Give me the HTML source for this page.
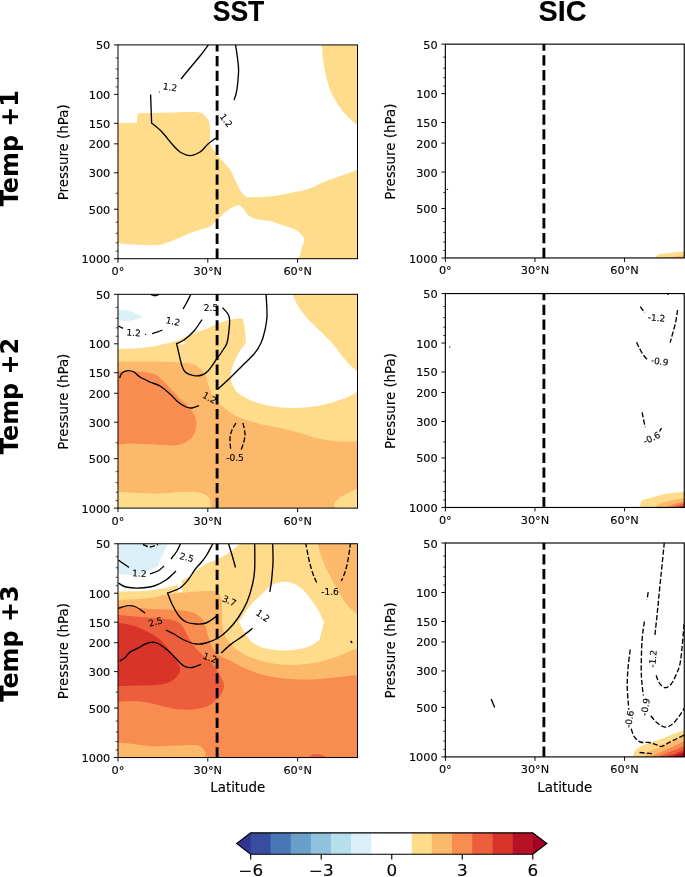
<!DOCTYPE html>
<html lang="en"><head><meta charset="utf-8"><title>SST / SIC temperature response</title>
<style>
html,body{margin:0;padding:0;background:#fff;}
body{width:685px;height:877px;overflow:hidden;}
svg{display:block;will-change:transform;}
text{font-family:"DejaVu Sans","Liberation Sans",sans-serif;fill:#000;stroke:#000;stroke-width:0.12px;}
.ttl{font-family:"Liberation Sans","DejaVu Sans",sans-serif;font-weight:bold;}
.row{font-family:"DejaVu Sans","Liberation Sans",sans-serif;font-weight:bold;stroke:none;}
</style></head><body>
<svg width="685" height="877" viewBox="0 0 685 877">
<rect width="685" height="877" fill="#fff"/>

<defs>
<clipPath id="c00"><rect x="118.0" y="44.9" width="239.5" height="213.8"/></clipPath>
<clipPath id="c01"><rect x="118.0" y="294.32" width="239.5" height="213.8"/></clipPath>
<clipPath id="c02"><rect x="118.0" y="543.75" width="239.5" height="213.8"/></clipPath>
<clipPath id="c10"><rect x="445.35" y="44.15" width="238.9" height="213.8"/></clipPath>
<clipPath id="c11"><rect x="445.35" y="293.57" width="238.9" height="213.9"/></clipPath>
<clipPath id="c12"><rect x="445.35" y="543.0" width="238.9" height="213.9"/></clipPath>
</defs>
<g clip-path="url(#c00)">
<path d="M118 123L136.6 123L137.6 113.4C141.3 113.3 150.3 113 160 112.8C169.7 112.6 188.7 111.6 196 112C203.3 112.4 201.8 113.3 204 115C206.2 116.7 208 119.5 209 122C210 124.5 209.8 128.7 210 130L210 144C211.3 146 214.7 151.8 218 156C221.3 160.2 227 165.2 230 169.5C233 173.8 234 178.1 236 182C238 185.9 240.2 190.4 242 193C243.8 195.6 246.2 196.7 247 197.4C250.8 197.2 262.8 197.1 270 196.4C277.2 195.7 283.7 194.2 290 193C296.3 191.8 302.3 190.8 308 189C313.7 187.2 318.3 184.2 324 182C329.7 179.8 336.2 177.7 342 175.6C347.8 173.5 355.8 170.4 358.5 169.4L358.5 259.7L298 259.7L298 258.7C298.3 258.1 299.3 256.9 300 255C300.7 253.1 301.3 249.5 302 247C302.7 244.5 304.6 242.2 304.4 240C304.2 237.8 302.7 235.8 301 234C299.3 232.2 297.2 230.5 294 229C290.8 227.5 286 226.3 282 225C278 223.7 274.3 222 270 221C265.7 220 259.7 220 256 219C252.3 218 250.3 217 248 215C245.7 213 243.7 208.6 242 207C240.3 205.4 240.3 205.1 238 205.6C235.7 206.1 231.3 207.8 228 210C224.7 212.2 221 216.2 218 219C215 221.8 213 224.8 210 226.6C207 228.4 204 228.2 200 229.6C196 231 191.3 232.9 186 235C180.7 237.1 173 240.7 168 242.4C163 244.1 162.3 244.7 156 245C149.7 245.3 136.3 244.7 130 244.4C123.7 244.1 120 243.2 118 243Z" fill="#fedc8c"/>
<path d="M322 43.9C322.2 46.6 322.3 54.6 323 60C323.7 65.3 324.7 70.7 326 76C327.3 81.3 328.8 87 331 92C333.2 97 336.2 101.8 339 106C341.8 110.2 344.8 113.7 348 117C351.2 120.3 356.8 124.5 358.5 126L358.5 43.9Z" fill="#fedc8c"/>
<path d="M209 44C207.5 46 203.2 52 200 56C196.8 60 193.2 64.2 190 68C186.8 71.8 182.5 77.2 181 79" fill="none" stroke="#000" stroke-width="1.35"/>
<text x="170" y="87.4" font-size="9.0" text-anchor="middle" dominant-baseline="central" transform="rotate(8 170 87.4)">1.2</text>
<circle cx="159.4" cy="92" r="0.6"/>
<path d="M150.6 94.4L151.6 123C153.3 124.5 158.6 128.5 162 132C165.4 135.5 169 140.7 172 144C175 147.3 177 150.1 180 152C183 153.9 186.7 155.6 190 155.6C193.3 155.6 197 153.9 200 152C203 150.1 205.3 146.3 208 144C210.7 141.7 214.7 139 216 138" fill="none" stroke="#000" stroke-width="1.35"/>
<path d="M235.4 44C235.8 46.3 237 53.7 237.5 58C238 62.3 238.6 65.5 238.6 70C238.6 74.5 237.9 81 237.5 85C237.1 89 236.6 91.5 236 94C235.4 96.5 234.3 99 234 100" fill="none" stroke="#000" stroke-width="1.35"/>
<text x="226" y="120.6" font-size="9.0" text-anchor="middle" dominant-baseline="central" transform="rotate(52 226 120.6)">1.2</text>
</g>
<g clip-path="url(#c01)">
<path d="M118 349C121.7 348.8 133 348.7 140 348C147 347.3 154 346.2 160 345C166 343.8 171 342.7 176 341C181 339.3 185 337 190 335C195 333 200.7 331.2 206 329C211.3 326.8 217.3 323.7 222 322C226.7 320.3 231 319.6 234 319C237 318.4 238.5 318.4 240 318.4C241.5 318.4 242.5 318.9 243 319C243.3 320.8 244.5 326 245 330C245.5 334 245.8 340.8 246 343C244.7 344.8 240.3 349.8 238 354C235.7 358.2 233.2 364 232 368C230.8 372 230.8 375 231 378C231.2 381 231.8 383.5 233 386C234.2 388.5 235.2 390.7 238 393C240.8 395.3 244.7 397.8 250 400C255.3 402.2 262.7 404.7 270 406C277.3 407.3 286.7 407.9 294 408C301.3 408.1 307.3 407.6 314 406.6C320.7 405.6 328 403.8 334 402C340 400.2 345.9 397.8 350 396C354.1 394.2 357.1 391.8 358.5 391L358.5 509.1L118 509.1Z" fill="#fedc8c"/>
<path d="M292 293.3C293 295.4 295.7 302.1 298 306C300.3 309.9 302.7 313.2 306 317C309.3 320.8 313.7 324.7 318 329C322.3 333.3 328 338.5 332 343C336 347.5 339 352.3 342 356C345 359.7 347.2 362.3 350 365C352.8 367.7 357.1 371.2 358.5 372.4L358.5 293.3Z" fill="#fedc8c"/>
<path d="M177.5 343.2L184 339.8L185 344L180 344.6Z" fill="#fff"/>
<path d="M118 310C119.3 310 123.3 309.6 126 310C128.7 310.4 131.2 311.2 134 312.4C136.8 313.6 141.5 316.2 143 317C141.8 317.4 138.8 318.9 136 319.6C133.2 320.3 129 320.9 126 321C123 321.1 119.3 320.5 118 320.4Z" fill="#dcf1f7"/>
<path d="M118 361.6C123.3 361.6 141.3 361.5 150 361.6C158.7 361.7 163.3 361.7 170 362C176.7 362.3 185.3 362.8 190 363.6C194.7 364.4 195.5 365.3 198 367C200.5 368.7 203.3 371.2 205 374C206.7 376.8 206.8 380.7 208 384C209.2 387.3 210.5 391 212 394C213.5 397 215.3 400 217 402C218.7 404 219.2 403.8 222 406C224.8 408.2 229.8 412.7 234 415C238.2 417.3 242.7 418.5 247 420C251.3 421.5 254.5 422.7 260 424C265.5 425.3 273.3 426.5 280 428C286.7 429.5 294 431.3 300 433C306 434.7 310.3 436.7 316 438C321.7 439.3 328.3 440.4 334 441C339.7 441.6 345.9 441.6 350 441.6C354.1 441.6 357.1 441.1 358.5 441L358.5 509.1L118 509.1Z" fill="#fdb96b"/>
<path d="M118 371C121 371.1 130 371.1 136 371.6C142 372.1 149.7 372.6 154 374C158.3 375.4 159 377.3 162 380C165 382.7 169 386.8 172 390C175 393.2 177 396 180 399C183 402 187.3 404.5 190 408C192.7 411.5 195.2 416 196 420C196.8 424 196.2 428.7 195 432C193.8 435.3 191.8 437.8 189 440C186.2 442.2 182.8 444.2 178 445C173.2 445.8 168 445.2 160 445C152 444.8 137 443.6 130 443.6C123 443.6 120 444.8 118 445Z" fill="#f88c51"/>
<path d="M118 492C121.7 492.2 133 492.7 140 493C147 493.3 153.3 493.8 160 493.6C166.7 493.4 174 492.3 180 492C186 491.7 191.7 491.5 196 492C200.3 492.5 203.7 493.7 206 495C208.3 496.3 209.2 497.6 210 500C210.8 502.4 210.5 507.6 210.6 509.1L118 509.1Z" fill="#fedc8c"/>
<path d="M358.5 488C356.8 488.8 351.2 491.3 348 493C344.8 494.7 341.3 496.2 339 498C336.7 499.8 334.5 502.1 334 504C333.5 505.9 335.7 508.3 336 509.1L358.5 509.1Z" fill="#fedc8c"/>
<path d="M150.5 294.4C151.2 294.6 153.5 295.7 155 295.7C156.5 295.7 158.8 294.6 159.5 294.4" fill="none" stroke="#000" stroke-width="1.35"/>
<path d="M118.4 326L123 328.4" fill="none" stroke="#000" stroke-width="1.35"/>
<text x="133.6" y="333" font-size="9.0" text-anchor="middle" dominant-baseline="central" transform="rotate(5 133.6 333)">1.2</text>
<circle cx="145.6" cy="334.4" r="0.6"/>
<path d="M152 333.6C152.8 333.4 155.3 332.8 157 332.2C158.7 331.6 161.5 330.4 162.4 330" fill="none" stroke="#000" stroke-width="1.35"/>
<text x="173" y="321.6" font-size="9.0" text-anchor="middle" dominant-baseline="central" transform="rotate(12 173 321.6)">1.2</text>
<path d="M183 309C183.7 307.8 185.7 304.5 187 302C188.3 299.5 190.3 295.3 191 294" fill="none" stroke="#000" stroke-width="1.35"/>
<path d="M202 319.6C200.7 321.5 197 327.6 194 331C191 334.4 186.9 337.9 184 340C181.1 342.1 177.8 343 176.6 343.6C177 345.3 178.1 350.3 179 354C179.9 357.7 180.9 362.9 182 366C183.1 369.1 183.6 370.8 185.6 372.4C187.6 374 191.3 375.2 194 375.6C196.7 376 199.7 375.8 202 375C204.3 374.2 205.7 373.5 208 371C210.3 368.5 213.5 363.5 216 360C218.5 356.5 221.2 352.8 223 350C224.8 347.2 226 346.3 227 343C228 339.7 228.6 333.8 229 330C229.4 326.2 229.8 322.7 229.6 320C229.4 317.3 229.2 316.1 228 314C226.8 311.9 223.3 308.7 222.4 307.6" fill="none" stroke="#000" stroke-width="1.35"/>
<text x="211" y="308.4" font-size="9.0" text-anchor="middle" dominant-baseline="central" transform="rotate(0 211 308.4)">2.5</text>
<path d="M119.6 378C120 377.2 120.6 374.2 122 373C123.4 371.8 126 370.8 128 370.6C130 370.4 132 370.9 134 372C136 373.1 137.3 375.3 140 377C142.7 378.7 146.7 380.5 150 382C153.3 383.5 156.7 384 160 386C163.3 388 167 391.3 170 394C173 396.7 175.3 399.8 178 402C180.7 404.2 183.7 406 186 407C188.3 408 189.8 408.2 192 408C194.2 407.8 197.8 406 199 405.6" fill="none" stroke="#000" stroke-width="1.35"/>
<text x="209.4" y="398" font-size="9.0" text-anchor="middle" dominant-baseline="central" transform="rotate(30 209.4 398)">1.2</text>
<path d="M218 389C220 387.2 226 381.8 230 378C234 374.2 238 370 242 366C246 362 250.8 357.8 254 354C257.2 350.2 259.2 347 261 343C262.8 339 264 334.5 265 330C266 325.5 266.8 322.2 267 316C267.2 309.8 266.2 296.8 266 293" fill="none" stroke="#000" stroke-width="1.35"/>
<path d="M236 423C235.3 424.2 233 427.5 232 430C231 432.5 230.2 434.8 230 438C229.8 441.2 230.5 447.2 230.6 449" fill="none" stroke="#000" stroke-width="1.35" stroke-dasharray="5.2 2.1"/>
<path d="M243 423C243.3 424.8 244.9 430.7 245 434C245.1 437.3 244.2 440.3 243.5 443C242.8 445.7 241.4 448.8 241 450" fill="none" stroke="#000" stroke-width="1.35" stroke-dasharray="5.2 2.1"/>
<text x="235" y="458" font-size="9.0" text-anchor="middle" dominant-baseline="central" transform="rotate(0 235 458)">-0.5</text>
</g>
<g clip-path="url(#c02)">
<path d="M118 591.6C121.7 591.5 133 591.4 140 591C147 590.6 154 590 160 589C166 588 172.3 586.5 176 585C179.7 583.5 180.1 581.5 182.4 580C184.7 578.5 187.4 577.8 190 576C192.6 574.2 195.3 571 198 569C200.7 567 202.7 565.7 206 564C209.3 562.3 214 561 218 559C222 557 226.2 554.7 230 552C233.8 549.3 239.2 544.3 241 542.8L358.5 542.8L358.5 758.5L118 758.5Z" fill="#fedc8c"/>
<path d="M178 584L182 580.5L182 592L178.5 592.5Z" fill="#fff"/>
<path d="M239 622C240.8 619.3 246.2 610.7 250 606C253.8 601.3 258.3 597.5 262 594C265.7 590.5 268.7 587 272 585C275.3 583 278.7 582.3 282 582C285.3 581.7 288.7 581.8 292 583C295.3 584.2 299 586.5 302 589C305 591.5 307.3 594.5 310 598C312.7 601.5 315.7 606 318 610C320.3 614 323 620 324 622C323.7 623.3 322.8 627 322 630C321.2 633 319.9 638.3 319.5 640C317.9 641 313.9 644.4 310 646C306.1 647.6 301 648.9 296 649.6C291 650.3 285.3 650.7 280 650.4C274.7 650.1 268.7 649.4 264 648C259.3 646.6 255.2 644.5 252 642C248.8 639.5 247.2 636.3 245 633C242.8 629.7 240 623.8 239 622Z" fill="#fff"/>
<path d="M118 542.8L168 542.8L168 543.8C167.2 545.5 164.3 551.3 163 554C161.7 556.7 160.8 558 160 560C159.2 562 159.7 564.3 158 566C156.3 567.7 153 568.7 150 570C147 571.3 143.3 573.2 140 574C136.7 574.8 133.7 575 130 575C126.3 575 120 574.2 118 574Z" fill="#dcf1f7"/>
<path d="M118 600C120 599.9 124.7 599.9 130 599.6C135.3 599.3 143.7 598.9 150 598C156.3 597.1 161.3 595.4 168 594.4C174.7 593.4 183 592.6 190 592C197 591.4 205.4 590.9 210 591C214.6 591.1 215.6 590.8 217.5 592.5C219.4 594.2 220.8 597.6 221.5 601C222.2 604.4 221.8 609.3 222 613C222.2 616.7 222.1 619.7 222.4 623C222.7 626.3 222.9 629.8 224 633C225.1 636.2 227 639.3 229 642C231 644.7 232.5 646.5 236 649C239.5 651.5 244.3 654.7 250 657C255.7 659.3 263.3 661.7 270 663C276.7 664.3 283.3 664.9 290 665C296.7 665.1 303.3 664.6 310 663.6C316.7 662.6 324.7 660.5 330 659C335.3 657.5 338.7 655.8 342 654.5C345.3 653.2 347.2 652.1 350 651C352.8 649.9 357.1 648.5 358.5 648L358.5 758.5L118 758.5Z" fill="#fdb96b"/>
<path d="M317.4 542.8C318 545 319.6 551.8 321 556C322.4 560.2 324.2 564 326 568C327.8 572 329.7 575.7 332 580C334.3 584.3 337.3 589.7 340 594C342.7 598.3 344.9 602.5 348 606C351.1 609.5 356.8 613.5 358.5 615L358.5 542.8Z" fill="#fdb96b"/>
<path d="M118 606C120 606.2 124.7 606.5 130 607C135.3 607.5 143.3 608.6 150 609C156.7 609.4 164 609.3 170 609.6C176 609.9 181.7 610.3 186 611C190.3 611.7 193.2 612.5 196 614C198.8 615.5 201.3 617.7 203 620C204.7 622.3 205 624.8 206 628C207 631.2 207.6 635.2 209 639C210.4 642.8 212.4 648 214.6 651C216.8 654 219.4 655.4 222 657C224.6 658.6 226.7 658.8 230 660.5C233.3 662.2 237 664.8 242 667C247 669.2 253.7 672.2 260 674C266.3 675.8 273.3 677.1 280 678C286.7 678.9 293.3 679.4 300 679.6C306.7 679.8 313.3 679.4 320 679C326.7 678.6 333.6 677.7 340 677C346.4 676.3 355.4 675.3 358.5 675L358.5 758.5L118 758.5Z" fill="#f88c51"/>
<path d="M118 615C119.3 615.1 122.3 615.3 126 615.6C129.7 615.9 134.3 616.5 140 617C145.7 617.5 154.3 617.8 160 618.4C165.7 619 170.3 619.3 174 620.5C177.7 621.7 179.7 622.8 182 625.5C184.3 628.2 185.9 633 188 636.5C190.1 640 192.2 643.5 194.5 646.5C196.8 649.5 199.6 652.2 202 654.5C204.4 656.8 207 658.6 209 660.5C211 662.4 212.1 663.4 214 666C215.9 668.6 218.8 672.7 220.5 676C222.2 679.3 224.1 682.7 224 686C223.9 689.3 222.3 692.8 220 696C217.7 699.2 214 702.8 210 705C206 707.2 201 708.2 196 709C191 709.8 185 709.9 180 709.6C175 709.3 171 708.1 166 707C161 705.9 155.3 704 150 703C144.7 702 139.3 701.2 134 701C128.7 700.8 120.7 701.8 118 702Z" fill="#ed5f3c"/>
<path d="M118 623C119.3 623.2 123 623.4 126 624C129 624.6 132.3 625.1 136 626.4C139.7 627.7 144.3 630.1 148 632C151.7 633.9 155 635.7 158 638C161 640.3 163.7 643.3 166 646C168.3 648.7 170.3 651.7 172 654C173.7 656.3 174.7 657.7 176 660C177.3 662.3 179.7 665.5 180 668C180.3 670.5 179.7 672.7 178 675C176.3 677.3 173.7 680.3 170 682C166.3 683.7 161.7 684.4 156 685C150.3 685.6 142.3 685.4 136 685.6C129.7 685.8 121 686.3 118 686.4Z" fill="#d93429"/>
<path d="M118 742.4C120.7 742.7 128 743.3 134 744C140 744.7 147.3 746.1 154 746.4C160.7 746.7 167.3 745.8 174 745.6C180.7 745.4 189.5 744.8 194 745C198.5 745.2 199.2 745.8 201 747C202.8 748.2 204.2 750.1 205 752C205.8 753.9 205.5 757.5 205.6 758.5L118 758.5Z" fill="#fdb96b"/>
<ellipse cx="317" cy="757.55" rx="8" ry="3.5" fill="#ed5f3c"/>
<path d="M143 544.5C144.2 544.9 147.5 547 150 547C152.5 547 156.7 544.9 158 544.5" fill="none" stroke="#000" stroke-width="1.35" stroke-dasharray="5.2 2.1"/>
<path d="M118.4 560C119.3 560.7 122.2 562.8 124 564C125.8 565.2 128.2 566.8 129 567.4" fill="none" stroke="#000" stroke-width="1.35"/>
<text x="139.4" y="573.6" font-size="9.0" text-anchor="middle" dominant-baseline="central" transform="rotate(3 139.4 573.6)">1.2</text>
<path d="M150 574C151.3 573.5 155.7 572.3 158 571C160.3 569.7 163 566.8 164 566" fill="none" stroke="#000" stroke-width="1.35"/>
<path d="M171 559C172 557.7 175.3 553.8 177 551C178.7 548.2 180.3 543.9 181 542.5" fill="none" stroke="#000" stroke-width="1.35"/>
<path d="M118.4 583C119.7 583.7 122.4 586.2 126 587C129.6 587.8 135.3 588.2 140 588C144.7 587.8 149.7 587.3 154 586C158.3 584.7 162.3 582.5 166 580C169.7 577.5 174.3 572.5 176 571" fill="none" stroke="#000" stroke-width="1.35"/>
<text x="186.6" y="557.6" font-size="9.0" text-anchor="middle" dominant-baseline="central" transform="rotate(15 186.6 557.6)">2.5</text>
<path d="M213.5 542.5C212.3 544.7 208.5 552.1 206.4 555.5C204.3 558.9 202.6 560.7 200.7 563C198.8 565.3 197.1 566.7 195 569.5C192.9 572.3 190.5 576.9 188 580C185.5 583.1 183.4 585.8 180 588C176.6 590.2 169.7 592.2 167.6 593C168.3 594.8 170.1 600.2 172 604C173.9 607.8 176.7 613 179 616C181.3 619 183.2 620.7 186 622C188.8 623.3 192.7 623.8 196 624C199.3 624.2 202.5 624.3 206 623C209.5 621.7 215 617.2 216.8 616" fill="none" stroke="#000" stroke-width="1.35"/>
<text x="229.2" y="601" font-size="9.0" text-anchor="middle" dominant-baseline="central" transform="rotate(25 229.2 601)">3.7</text>
<path d="M235.5 567.5C234.9 565.4 233.2 559.2 232 555C230.8 550.8 228.8 544.6 228.2 542.5" fill="none" stroke="#000" stroke-width="1.35"/>
<path d="M118.4 608.3C120 607.8 125.1 605.8 128 605.6C130.9 605.4 133.2 605.8 136 607C138.8 608.2 143.5 612 145 613" fill="none" stroke="#000" stroke-width="1.35"/>
<text x="155.6" y="622" font-size="9.0" text-anchor="middle" dominant-baseline="central" transform="rotate(-15 155.6 622)">2.5</text>
<path d="M166 630C167.3 630.7 171 632.3 174 634C177 635.7 180.3 638.3 184 640C187.7 641.7 192.3 643.5 196 644C199.7 644.5 202.3 644 206 643C209.7 642 214.3 640.2 218 638C221.7 635.8 224.7 633.3 228 630C231.3 626.7 234.8 622.7 238 618C241.2 613.3 244.6 607.7 247 602C249.4 596.3 251.3 589.5 252.6 584C253.9 578.5 254.3 575.9 254.7 569C255 562.1 254.7 546.9 254.7 542.5" fill="none" stroke="#000" stroke-width="1.35"/>
<path d="M272.6 542.5C272.7 545.8 273.2 555.6 273 562C272.8 568.4 272 576 271.5 581C271 586 270.1 590 269.8 591.8" fill="none" stroke="#000" stroke-width="1.35"/>
<text x="262.8" y="616" font-size="9.0" text-anchor="middle" dominant-baseline="central" transform="rotate(35 262.8 616)">1.2</text>
<path d="M252.6 628.3C250.9 629.6 246 633.7 242.3 636.4C238.7 639.1 234.2 641.6 230.7 644.4C227.2 647.2 222.8 651.6 221.2 653.1" fill="none" stroke="#000" stroke-width="1.35"/>
<text x="210" y="658" font-size="9.0" text-anchor="middle" dominant-baseline="central" transform="rotate(20 210 658)">1.2</text>
<path d="M201 664.4C199.3 664.9 193.8 667.3 191 667.6C188.2 667.9 185.8 666.8 184 666C182.2 665.2 181.7 664.4 180 662.8C178.3 661.2 176.1 658.6 174 656.5C171.9 654.4 170.2 652.3 167.7 650.2C165.2 648.1 161.4 645.4 158.9 644C156.4 642.6 154.9 642.1 152.6 642.1C150.3 642.1 147.4 643.1 145.1 644C142.8 644.9 141.3 646.4 138.8 647.7C136.3 649.1 132.3 650.4 130 652.1C127.7 653.8 126.7 656.3 125 657.8C123.3 659.3 120.5 660.5 119.6 661" fill="none" stroke="#000" stroke-width="1.35"/>
<path d="M305.6 542.5C306.2 545.4 307.8 554.8 309 560C310.2 565.2 311.6 570 313 574C314.4 578 316.7 582.3 317.4 584" fill="none" stroke="#000" stroke-width="1.35" stroke-dasharray="5.2 2.1"/>
<path d="M350.6 542.5C350.2 545.4 348.9 555.1 348 560C347.1 564.9 346.1 568.5 345 572C343.9 575.5 342 579.5 341.4 581" fill="none" stroke="#000" stroke-width="1.35" stroke-dasharray="5.2 2.1"/>
<text x="330" y="592" font-size="9.0" text-anchor="middle" dominant-baseline="central" transform="rotate(0 330 592)">-1.6</text>
<path d="M350.6 641L352.2 643" fill="none" stroke="#000" stroke-width="1.35"/>
</g>
<g clip-path="url(#c10)">
<path d="M654.6 259L654.6 258C655.4 257.3 657.1 254.8 659.6 254C662.1 253.2 665.3 253.3 669.5 252.9C673.7 252.5 682.4 251.8 685 251.6L685 259Z" fill="#fedc8c"/>
<path d="M667 259L667 258C668.3 257.8 672 257 675 256.5C678 256 683.3 255.2 685 255L685 259Z" fill="#fdb96b"/>
<circle cx="447.5" cy="189.4" r="0.7"/>
</g>
<g clip-path="url(#c11)">
<path d="M640.3 508.4L640.3 505C640.6 504.3 640 502 642 500.7C644 499.4 648.5 498.4 652.6 497.2C656.7 496 661.2 494.6 666.6 493.7C672 492.8 681.9 492.3 685 492L685 508.4Z" fill="#fedc8c"/>
<path d="M653.5 508.4L653.5 507.4C655.1 506.6 659.6 503.8 663 502.5C666.4 501.2 669.9 500.6 673.6 499.9C677.3 499.2 683.1 498.4 685 498.1L685 508.4Z" fill="#fdb96b"/>
<path d="M665 508.4L665 507.4C666.4 506.9 670.3 505.2 673.6 504.2C676.9 503.2 683.1 502 685 501.6L685 508.4Z" fill="#f88c51"/>
<path d="M672 508.4L672 507.4C673.1 507 676.7 505.7 678.9 505C681.1 504.3 684 503.7 685 503.4L685 508.4Z" fill="#ed5f3c"/>
<path d="M677 508.4L677 507.4C677.7 507.2 679.7 506.4 681 506C682.3 505.6 684.3 505.2 685 505L685 508.4Z" fill="#d93429"/>
<path d="M640.3 306.6L644.7 312.8" fill="none" stroke="#000" stroke-width="1.35" stroke-dasharray="5.2 2.1"/>
<text x="656.5" y="318" font-size="9.0" text-anchor="middle" dominant-baseline="central" transform="rotate(5 656.5 318)">-1.2</text>
<path d="M677.6 310.1C677.2 312.3 676.6 317.9 675.4 323.3C674.1 328.7 671 339.4 670.1 342.6" fill="none" stroke="#000" stroke-width="1.35" stroke-dasharray="5.2 2.1"/>
<path d="M636.5 342.2C637.4 344 640.3 350.2 642.1 353.1C643.9 356 646.4 358.6 647.3 359.7" fill="none" stroke="#000" stroke-width="1.35" stroke-dasharray="5.2 2.1"/>
<text x="659.6" y="361.5" font-size="9.0" text-anchor="middle" dominant-baseline="central" transform="rotate(8 659.6 361.5)">-0.9</text>
<path d="M642.1 412.3L645.2 427.2" fill="none" stroke="#000" stroke-width="1.35" stroke-dasharray="5.2 2.1"/>
<text x="651.7" y="438.2" font-size="9.0" text-anchor="middle" dominant-baseline="central" transform="rotate(-25 651.7 438.2)">-0.6</text>
<path d="M659.5 431.5L661.5 428" fill="none" stroke="#000" stroke-width="1.35"/>
<path d="M668 293.5L668 295" fill="none" stroke="#000" stroke-width="1.35"/>
<circle cx="449.7" cy="346.9" r="0.6"/>
</g>
<g clip-path="url(#c12)">
<path d="M633.3 757.9L633.3 756C633.6 755.1 633.6 752.5 635.1 750.7C636.6 749 639.2 747 642.1 745.5C645 744 648.8 743.3 652.6 742C656.4 740.7 661.1 739.1 664.9 737.6C668.7 736.1 672 734.5 675.4 733.2C678.8 731.9 683.4 730.3 685 729.7L685 757.9Z" fill="#fedc8c"/>
<path d="M644.7 757.9L644.7 756C645.4 755.3 646.6 753.1 649.1 751.6C651.6 750.1 655.8 748.8 659.6 747.2C663.4 745.6 667.7 743.9 671.9 742C676.1 740.1 682.8 736.8 685 735.8L685 757.9Z" fill="#fdb96b"/>
<path d="M652.6 757.9L652.6 756C653.8 755.4 656.7 753.8 659.6 752.5C662.5 751.2 665.9 750 670.1 748.1C674.3 746.2 682.5 742.3 685 741.1L685 757.9Z" fill="#f88c51"/>
<path d="M659.6 757.9L659.6 756C661.1 755.4 665.5 753.7 668.4 752.5C671.3 751.3 674.3 750.2 677.1 749C679.9 747.8 683.7 746.1 685 745.5L685 757.9Z" fill="#ed5f3c"/>
<path d="M666.6 757.9L666.6 756C668.1 755.6 672.3 754.6 675.4 753.4C678.5 752.2 683.4 749.7 685 749L685 757.9Z" fill="#d93429"/>
<path d="M672.7 757.9L672.7 756C673.7 755.7 676.9 754.9 678.9 754.2C680.9 753.5 684 752 685 751.6L685 757.9Z" fill="#b71126"/>
<path d="M678 757.9L678 756L685 753.7L685 757.9Z" fill="#a50026"/>
<path d="M664.3 542.5C663.8 547.9 662.1 564.3 661 575C659.9 585.7 658.9 596.5 657.9 606.6C656.9 616.7 655.4 630.7 654.9 635.5" fill="none" stroke="#000" stroke-width="1.35" stroke-dasharray="5.2 2.1"/>
<path d="M648.2 592.2L647 599.6" fill="none" stroke="#000" stroke-width="1.35" stroke-dasharray="5.2 2.1"/>
<path d="M644.4 621.5C644 624.6 642.6 632.2 642.1 639.9C641.6 647.6 641.2 660 641.2 667.5C641.2 675 641.7 680.3 642.1 685C642.5 689.7 643.3 693.8 643.5 695.5" fill="none" stroke="#000" stroke-width="1.35" stroke-dasharray="5.2 2.1"/>
<path d="M630.2 649.5C629.9 652.5 628.6 661.6 628.1 667.5C627.6 673.4 627.2 679.5 627.2 685C627.2 690.5 627.8 696.7 628.1 700.8C628.4 704.9 628.8 708.1 628.9 709.6" fill="none" stroke="#000" stroke-width="1.35" stroke-dasharray="5.2 2.1"/>
<path d="M684.1 624.1C683.5 630.2 681.9 652.1 680.6 660.5C679.3 668.9 677.8 670.5 676.2 674.5C674.6 678.5 672.8 682 671 684.2C669.2 686.4 667.1 687.9 665.2 687.7C663.3 687.6 661.1 685.3 659.6 683.3C658.1 681.2 656.7 676.7 656.1 675.4" fill="none" stroke="#000" stroke-width="1.35" stroke-dasharray="5.2 2.1"/>
<text x="653.1" y="658.8" font-size="9.0" text-anchor="middle" dominant-baseline="central" transform="rotate(-85 653.1 658.8)">-1.2</text>
<text x="645.6" y="707" font-size="9.0" text-anchor="middle" dominant-baseline="central" transform="rotate(-80 645.6 707)">-0.9</text>
<path d="M650.8 715.7C651.8 716.9 654.6 720.8 657 722.7C659.4 724.6 662.4 726.8 664.9 727.1C667.4 727.4 669.6 726.2 671.9 724.5C674.2 722.8 676.8 719.4 678.9 716.6C681 713.8 683.6 709.3 684.5 707.8" fill="none" stroke="#000" stroke-width="1.35" stroke-dasharray="5.2 2.1"/>
<text x="629.5" y="719.2" font-size="9.0" text-anchor="middle" dominant-baseline="central" transform="rotate(-80 629.5 719.2)">-0.6</text>
<path d="M631.2 728.8C631.7 730.1 632.7 734.5 634.2 736.7C635.7 738.9 637.8 741 640.3 742C642.8 743 646.5 742.1 649.1 742.5C651.7 742.9 654.1 744 656.1 744.6C658.1 745.2 659.4 746.7 661.4 746.4C663.4 746.1 665.8 744.2 668.4 742.9C671 741.6 674.4 739.8 677.1 738.5C679.8 737.2 683.3 735.6 684.5 735" fill="none" stroke="#000" stroke-width="1.35" stroke-dasharray="5.2 2.1"/>
<path d="M639.5 752.5L652.6 753.7" fill="none" stroke="#000" stroke-width="1.35" stroke-dasharray="5.2 2.1"/>
<path d="M491.2 699.1L494.7 707.4" fill="none" stroke="#000" stroke-width="1.35"/>
</g>
<line x1="217.1" y1="258.7" x2="217.1" y2="44.9" stroke="#000" stroke-width="2.85" stroke-dasharray="10.3 4.5"/>
<rect x="118.0" y="44.9" width="239.5" height="213.8" fill="none" stroke="#000" stroke-width="1.0"/>
<line x1="114" y1="44.90" x2="118.0" y2="44.90" stroke="#000" stroke-width="0.95"/>
<text x="110.3" y="49.40" font-size="11.3" text-anchor="end">50</text>
<line x1="114" y1="94.37" x2="118.0" y2="94.37" stroke="#000" stroke-width="0.95"/>
<text x="110.3" y="98.87" font-size="11.3" text-anchor="end">100</text>
<line x1="114" y1="123.31" x2="118.0" y2="123.31" stroke="#000" stroke-width="0.95"/>
<text x="110.3" y="127.81" font-size="11.3" text-anchor="end">150</text>
<line x1="114" y1="143.84" x2="118.0" y2="143.84" stroke="#000" stroke-width="0.95"/>
<text x="110.3" y="148.34" font-size="11.3" text-anchor="end">200</text>
<line x1="114" y1="172.77" x2="118.0" y2="172.77" stroke="#000" stroke-width="0.95"/>
<text x="110.3" y="177.27" font-size="11.3" text-anchor="end">300</text>
<line x1="114" y1="209.23" x2="118.0" y2="209.23" stroke="#000" stroke-width="0.95"/>
<text x="110.3" y="213.73" font-size="11.3" text-anchor="end">500</text>
<line x1="114" y1="258.70" x2="118.0" y2="258.70" stroke="#000" stroke-width="0.95"/>
<text x="110.3" y="263.20" font-size="11.3" text-anchor="end">1000</text>
<line x1="115.7" y1="57.91" x2="118.0" y2="57.91" stroke="#000" stroke-width="0.7"/>
<line x1="115.7" y1="68.91" x2="118.0" y2="68.91" stroke="#000" stroke-width="0.7"/>
<line x1="115.7" y1="78.44" x2="118.0" y2="78.44" stroke="#000" stroke-width="0.7"/>
<line x1="115.7" y1="86.85" x2="118.0" y2="86.85" stroke="#000" stroke-width="0.7"/>
<line x1="115.7" y1="193.31" x2="118.0" y2="193.31" stroke="#000" stroke-width="0.7"/>
<line x1="115.7" y1="222.24" x2="118.0" y2="222.24" stroke="#000" stroke-width="0.7"/>
<line x1="115.7" y1="233.24" x2="118.0" y2="233.24" stroke="#000" stroke-width="0.7"/>
<line x1="115.7" y1="242.77" x2="118.0" y2="242.77" stroke="#000" stroke-width="0.7"/>
<line x1="115.7" y1="251.18" x2="118.0" y2="251.18" stroke="#000" stroke-width="0.7"/>
<line x1="118.00" y1="258.7" x2="118.00" y2="262.7" stroke="#000" stroke-width="0.95"/>
<text x="118.00" y="275.1" font-size="11.3" text-anchor="middle">0°</text>
<line x1="207.81" y1="258.7" x2="207.81" y2="262.7" stroke="#000" stroke-width="0.95"/>
<text x="207.81" y="275.1" font-size="11.3" text-anchor="middle">30°N</text>
<line x1="297.62" y1="258.7" x2="297.62" y2="262.7" stroke="#000" stroke-width="0.95"/>
<text x="297.62" y="275.1" font-size="11.3" text-anchor="middle">60°N</text>
<text x="68" y="152.3" font-size="13.4" text-anchor="middle" transform="rotate(-90 68 152.3)">Pressure (hPa)</text>
<line x1="217.1" y1="508.12" x2="217.1" y2="294.32" stroke="#000" stroke-width="2.85" stroke-dasharray="10.3 4.5"/>
<rect x="118.0" y="294.32" width="239.5" height="213.8" fill="none" stroke="#000" stroke-width="1.0"/>
<line x1="114" y1="294.32" x2="118.0" y2="294.32" stroke="#000" stroke-width="0.95"/>
<text x="110.3" y="298.82" font-size="11.3" text-anchor="end">50</text>
<line x1="114" y1="343.79" x2="118.0" y2="343.79" stroke="#000" stroke-width="0.95"/>
<text x="110.3" y="348.29" font-size="11.3" text-anchor="end">100</text>
<line x1="114" y1="372.73" x2="118.0" y2="372.73" stroke="#000" stroke-width="0.95"/>
<text x="110.3" y="377.23" font-size="11.3" text-anchor="end">150</text>
<line x1="114" y1="393.26" x2="118.0" y2="393.26" stroke="#000" stroke-width="0.95"/>
<text x="110.3" y="397.76" font-size="11.3" text-anchor="end">200</text>
<line x1="114" y1="422.19" x2="118.0" y2="422.19" stroke="#000" stroke-width="0.95"/>
<text x="110.3" y="426.69" font-size="11.3" text-anchor="end">300</text>
<line x1="114" y1="458.65" x2="118.0" y2="458.65" stroke="#000" stroke-width="0.95"/>
<text x="110.3" y="463.15" font-size="11.3" text-anchor="end">500</text>
<line x1="114" y1="508.12" x2="118.0" y2="508.12" stroke="#000" stroke-width="0.95"/>
<text x="110.3" y="512.62" font-size="11.3" text-anchor="end">1000</text>
<line x1="115.7" y1="307.33" x2="118.0" y2="307.33" stroke="#000" stroke-width="0.7"/>
<line x1="115.7" y1="318.33" x2="118.0" y2="318.33" stroke="#000" stroke-width="0.7"/>
<line x1="115.7" y1="327.86" x2="118.0" y2="327.86" stroke="#000" stroke-width="0.7"/>
<line x1="115.7" y1="336.27" x2="118.0" y2="336.27" stroke="#000" stroke-width="0.7"/>
<line x1="115.7" y1="442.73" x2="118.0" y2="442.73" stroke="#000" stroke-width="0.7"/>
<line x1="115.7" y1="471.66" x2="118.0" y2="471.66" stroke="#000" stroke-width="0.7"/>
<line x1="115.7" y1="482.66" x2="118.0" y2="482.66" stroke="#000" stroke-width="0.7"/>
<line x1="115.7" y1="492.19" x2="118.0" y2="492.19" stroke="#000" stroke-width="0.7"/>
<line x1="115.7" y1="500.60" x2="118.0" y2="500.60" stroke="#000" stroke-width="0.7"/>
<line x1="118.00" y1="508.12" x2="118.00" y2="512.1" stroke="#000" stroke-width="0.95"/>
<text x="118.00" y="524.5" font-size="11.3" text-anchor="middle">0°</text>
<line x1="207.81" y1="508.12" x2="207.81" y2="512.1" stroke="#000" stroke-width="0.95"/>
<text x="207.81" y="524.5" font-size="11.3" text-anchor="middle">30°N</text>
<line x1="297.62" y1="508.12" x2="297.62" y2="512.1" stroke="#000" stroke-width="0.95"/>
<text x="297.62" y="524.5" font-size="11.3" text-anchor="middle">60°N</text>
<text x="68" y="401.7" font-size="13.4" text-anchor="middle" transform="rotate(-90 68 401.7)">Pressure (hPa)</text>
<line x1="217.1" y1="757.55" x2="217.1" y2="543.75" stroke="#000" stroke-width="2.85" stroke-dasharray="10.3 4.5"/>
<rect x="118.0" y="543.75" width="239.5" height="213.8" fill="none" stroke="#000" stroke-width="1.0"/>
<line x1="114" y1="543.75" x2="118.0" y2="543.75" stroke="#000" stroke-width="0.95"/>
<text x="110.3" y="548.25" font-size="11.3" text-anchor="end">50</text>
<line x1="114" y1="593.22" x2="118.0" y2="593.22" stroke="#000" stroke-width="0.95"/>
<text x="110.3" y="597.72" font-size="11.3" text-anchor="end">100</text>
<line x1="114" y1="622.16" x2="118.0" y2="622.16" stroke="#000" stroke-width="0.95"/>
<text x="110.3" y="626.66" font-size="11.3" text-anchor="end">150</text>
<line x1="114" y1="642.69" x2="118.0" y2="642.69" stroke="#000" stroke-width="0.95"/>
<text x="110.3" y="647.19" font-size="11.3" text-anchor="end">200</text>
<line x1="114" y1="671.62" x2="118.0" y2="671.62" stroke="#000" stroke-width="0.95"/>
<text x="110.3" y="676.12" font-size="11.3" text-anchor="end">300</text>
<line x1="114" y1="708.08" x2="118.0" y2="708.08" stroke="#000" stroke-width="0.95"/>
<text x="110.3" y="712.58" font-size="11.3" text-anchor="end">500</text>
<line x1="114" y1="757.55" x2="118.0" y2="757.55" stroke="#000" stroke-width="0.95"/>
<text x="110.3" y="762.05" font-size="11.3" text-anchor="end">1000</text>
<line x1="115.7" y1="556.76" x2="118.0" y2="556.76" stroke="#000" stroke-width="0.7"/>
<line x1="115.7" y1="567.76" x2="118.0" y2="567.76" stroke="#000" stroke-width="0.7"/>
<line x1="115.7" y1="577.29" x2="118.0" y2="577.29" stroke="#000" stroke-width="0.7"/>
<line x1="115.7" y1="585.70" x2="118.0" y2="585.70" stroke="#000" stroke-width="0.7"/>
<line x1="115.7" y1="692.16" x2="118.0" y2="692.16" stroke="#000" stroke-width="0.7"/>
<line x1="115.7" y1="721.09" x2="118.0" y2="721.09" stroke="#000" stroke-width="0.7"/>
<line x1="115.7" y1="732.09" x2="118.0" y2="732.09" stroke="#000" stroke-width="0.7"/>
<line x1="115.7" y1="741.62" x2="118.0" y2="741.62" stroke="#000" stroke-width="0.7"/>
<line x1="115.7" y1="750.03" x2="118.0" y2="750.03" stroke="#000" stroke-width="0.7"/>
<line x1="118.00" y1="757.55" x2="118.00" y2="761.5" stroke="#000" stroke-width="0.95"/>
<text x="118.00" y="773.9" font-size="11.3" text-anchor="middle">0°</text>
<line x1="207.81" y1="757.55" x2="207.81" y2="761.5" stroke="#000" stroke-width="0.95"/>
<text x="207.81" y="773.9" font-size="11.3" text-anchor="middle">30°N</text>
<line x1="297.62" y1="757.55" x2="297.62" y2="761.5" stroke="#000" stroke-width="0.95"/>
<text x="297.62" y="773.9" font-size="11.3" text-anchor="middle">60°N</text>
<text x="68" y="651.1" font-size="13.4" text-anchor="middle" transform="rotate(-90 68 651.1)">Pressure (hPa)</text>
<text x="237.8" y="792.1" font-size="13.4" text-anchor="middle">Latitude</text>
<line x1="543.9" y1="258.0" x2="543.9" y2="44.15" stroke="#000" stroke-width="2.85" stroke-dasharray="10.3 4.5"/>
<rect x="445.35" y="44.15" width="238.9" height="213.8" fill="none" stroke="#000" stroke-width="1.15"/>
<line x1="441.4" y1="44.15" x2="445.35" y2="44.15" stroke="#000" stroke-width="0.95"/>
<text x="437.7" y="48.65" font-size="11.3" text-anchor="end">50</text>
<line x1="441.4" y1="93.63" x2="445.35" y2="93.63" stroke="#000" stroke-width="0.95"/>
<text x="437.7" y="98.13" font-size="11.3" text-anchor="end">100</text>
<line x1="441.4" y1="122.57" x2="445.35" y2="122.57" stroke="#000" stroke-width="0.95"/>
<text x="437.7" y="127.07" font-size="11.3" text-anchor="end">150</text>
<line x1="441.4" y1="143.11" x2="445.35" y2="143.11" stroke="#000" stroke-width="0.95"/>
<text x="437.7" y="147.61" font-size="11.3" text-anchor="end">200</text>
<line x1="441.4" y1="172.05" x2="445.35" y2="172.05" stroke="#000" stroke-width="0.95"/>
<text x="437.7" y="176.55" font-size="11.3" text-anchor="end">300</text>
<line x1="441.4" y1="208.52" x2="445.35" y2="208.52" stroke="#000" stroke-width="0.95"/>
<text x="437.7" y="213.02" font-size="11.3" text-anchor="end">500</text>
<line x1="441.4" y1="258.00" x2="445.35" y2="258.00" stroke="#000" stroke-width="0.95"/>
<text x="437.7" y="262.50" font-size="11.3" text-anchor="end">1000</text>
<line x1="443.1" y1="57.17" x2="445.35" y2="57.17" stroke="#000" stroke-width="0.7"/>
<line x1="443.1" y1="68.17" x2="445.35" y2="68.17" stroke="#000" stroke-width="0.7"/>
<line x1="443.1" y1="77.70" x2="445.35" y2="77.70" stroke="#000" stroke-width="0.7"/>
<line x1="443.1" y1="86.11" x2="445.35" y2="86.11" stroke="#000" stroke-width="0.7"/>
<line x1="443.1" y1="192.59" x2="445.35" y2="192.59" stroke="#000" stroke-width="0.7"/>
<line x1="443.1" y1="221.53" x2="445.35" y2="221.53" stroke="#000" stroke-width="0.7"/>
<line x1="443.1" y1="232.54" x2="445.35" y2="232.54" stroke="#000" stroke-width="0.7"/>
<line x1="443.1" y1="242.07" x2="445.35" y2="242.07" stroke="#000" stroke-width="0.7"/>
<line x1="443.1" y1="250.48" x2="445.35" y2="250.48" stroke="#000" stroke-width="0.7"/>
<line x1="445.35" y1="258.0" x2="445.35" y2="262" stroke="#000" stroke-width="0.95"/>
<text x="445.35" y="274.4" font-size="11.3" text-anchor="middle">0°</text>
<line x1="534.96" y1="258.0" x2="534.96" y2="262" stroke="#000" stroke-width="0.95"/>
<text x="534.96" y="274.4" font-size="11.3" text-anchor="middle">30°N</text>
<line x1="624.56" y1="258.0" x2="624.56" y2="262" stroke="#000" stroke-width="0.95"/>
<text x="624.56" y="274.4" font-size="11.3" text-anchor="middle">60°N</text>
<text x="395.4" y="151.6" font-size="13.4" text-anchor="middle" transform="rotate(-90 395.4 151.6)">Pressure (hPa)</text>
<line x1="543.9" y1="507.42" x2="543.9" y2="293.57" stroke="#000" stroke-width="2.85" stroke-dasharray="10.3 4.5"/>
<rect x="445.35" y="293.57" width="238.9" height="213.9" fill="none" stroke="#000" stroke-width="1.15"/>
<line x1="441.4" y1="293.57" x2="445.35" y2="293.57" stroke="#000" stroke-width="0.95"/>
<text x="437.7" y="298.07" font-size="11.3" text-anchor="end">50</text>
<line x1="441.4" y1="343.05" x2="445.35" y2="343.05" stroke="#000" stroke-width="0.95"/>
<text x="437.7" y="347.55" font-size="11.3" text-anchor="end">100</text>
<line x1="441.4" y1="371.99" x2="445.35" y2="371.99" stroke="#000" stroke-width="0.95"/>
<text x="437.7" y="376.49" font-size="11.3" text-anchor="end">150</text>
<line x1="441.4" y1="392.53" x2="445.35" y2="392.53" stroke="#000" stroke-width="0.95"/>
<text x="437.7" y="397.03" font-size="11.3" text-anchor="end">200</text>
<line x1="441.4" y1="421.47" x2="445.35" y2="421.47" stroke="#000" stroke-width="0.95"/>
<text x="437.7" y="425.97" font-size="11.3" text-anchor="end">300</text>
<line x1="441.4" y1="457.94" x2="445.35" y2="457.94" stroke="#000" stroke-width="0.95"/>
<text x="437.7" y="462.44" font-size="11.3" text-anchor="end">500</text>
<line x1="441.4" y1="507.42" x2="445.35" y2="507.42" stroke="#000" stroke-width="0.95"/>
<text x="437.7" y="511.92" font-size="11.3" text-anchor="end">1000</text>
<line x1="443.1" y1="306.59" x2="445.35" y2="306.59" stroke="#000" stroke-width="0.7"/>
<line x1="443.1" y1="317.59" x2="445.35" y2="317.59" stroke="#000" stroke-width="0.7"/>
<line x1="443.1" y1="327.12" x2="445.35" y2="327.12" stroke="#000" stroke-width="0.7"/>
<line x1="443.1" y1="335.53" x2="445.35" y2="335.53" stroke="#000" stroke-width="0.7"/>
<line x1="443.1" y1="442.01" x2="445.35" y2="442.01" stroke="#000" stroke-width="0.7"/>
<line x1="443.1" y1="470.95" x2="445.35" y2="470.95" stroke="#000" stroke-width="0.7"/>
<line x1="443.1" y1="481.96" x2="445.35" y2="481.96" stroke="#000" stroke-width="0.7"/>
<line x1="443.1" y1="491.49" x2="445.35" y2="491.49" stroke="#000" stroke-width="0.7"/>
<line x1="443.1" y1="499.90" x2="445.35" y2="499.90" stroke="#000" stroke-width="0.7"/>
<line x1="445.35" y1="507.42" x2="445.35" y2="511.4" stroke="#000" stroke-width="0.95"/>
<text x="445.35" y="523.8" font-size="11.3" text-anchor="middle">0°</text>
<line x1="534.96" y1="507.42" x2="534.96" y2="511.4" stroke="#000" stroke-width="0.95"/>
<text x="534.96" y="523.8" font-size="11.3" text-anchor="middle">30°N</text>
<line x1="624.56" y1="507.42" x2="624.56" y2="511.4" stroke="#000" stroke-width="0.95"/>
<text x="624.56" y="523.8" font-size="11.3" text-anchor="middle">60°N</text>
<text x="395.4" y="401" font-size="13.4" text-anchor="middle" transform="rotate(-90 395.4 401)">Pressure (hPa)</text>
<line x1="543.9" y1="756.85" x2="543.9" y2="543.0" stroke="#000" stroke-width="2.85" stroke-dasharray="10.3 4.5"/>
<rect x="445.35" y="543.0" width="238.9" height="213.9" fill="none" stroke="#000" stroke-width="1.15"/>
<line x1="441.4" y1="543.00" x2="445.35" y2="543.00" stroke="#000" stroke-width="0.95"/>
<text x="437.7" y="547.50" font-size="11.3" text-anchor="end">50</text>
<line x1="441.4" y1="592.48" x2="445.35" y2="592.48" stroke="#000" stroke-width="0.95"/>
<text x="437.7" y="596.98" font-size="11.3" text-anchor="end">100</text>
<line x1="441.4" y1="621.42" x2="445.35" y2="621.42" stroke="#000" stroke-width="0.95"/>
<text x="437.7" y="625.92" font-size="11.3" text-anchor="end">150</text>
<line x1="441.4" y1="641.96" x2="445.35" y2="641.96" stroke="#000" stroke-width="0.95"/>
<text x="437.7" y="646.46" font-size="11.3" text-anchor="end">200</text>
<line x1="441.4" y1="670.90" x2="445.35" y2="670.90" stroke="#000" stroke-width="0.95"/>
<text x="437.7" y="675.40" font-size="11.3" text-anchor="end">300</text>
<line x1="441.4" y1="707.37" x2="445.35" y2="707.37" stroke="#000" stroke-width="0.95"/>
<text x="437.7" y="711.87" font-size="11.3" text-anchor="end">500</text>
<line x1="441.4" y1="756.85" x2="445.35" y2="756.85" stroke="#000" stroke-width="0.95"/>
<text x="437.7" y="761.35" font-size="11.3" text-anchor="end">1000</text>
<line x1="443.1" y1="556.02" x2="445.35" y2="556.02" stroke="#000" stroke-width="0.7"/>
<line x1="443.1" y1="567.02" x2="445.35" y2="567.02" stroke="#000" stroke-width="0.7"/>
<line x1="443.1" y1="576.55" x2="445.35" y2="576.55" stroke="#000" stroke-width="0.7"/>
<line x1="443.1" y1="584.96" x2="445.35" y2="584.96" stroke="#000" stroke-width="0.7"/>
<line x1="443.1" y1="691.44" x2="445.35" y2="691.44" stroke="#000" stroke-width="0.7"/>
<line x1="443.1" y1="720.38" x2="445.35" y2="720.38" stroke="#000" stroke-width="0.7"/>
<line x1="443.1" y1="731.39" x2="445.35" y2="731.39" stroke="#000" stroke-width="0.7"/>
<line x1="443.1" y1="740.92" x2="445.35" y2="740.92" stroke="#000" stroke-width="0.7"/>
<line x1="443.1" y1="749.33" x2="445.35" y2="749.33" stroke="#000" stroke-width="0.7"/>
<line x1="445.35" y1="756.85" x2="445.35" y2="760.9" stroke="#000" stroke-width="0.95"/>
<text x="445.35" y="773.2" font-size="11.3" text-anchor="middle">0°</text>
<line x1="534.96" y1="756.85" x2="534.96" y2="760.9" stroke="#000" stroke-width="0.95"/>
<text x="534.96" y="773.2" font-size="11.3" text-anchor="middle">30°N</text>
<line x1="624.56" y1="756.85" x2="624.56" y2="760.9" stroke="#000" stroke-width="0.95"/>
<text x="624.56" y="773.2" font-size="11.3" text-anchor="middle">60°N</text>
<text x="395.4" y="650.4" font-size="13.4" text-anchor="middle" transform="rotate(-90 395.4 650.4)">Pressure (hPa)</text>
<text x="564.8" y="791.5" font-size="13.4" text-anchor="middle">Latitude</text>
<text class="ttl" transform="translate(238.5 21) scale(0.985 1.09)" font-size="27" text-anchor="middle">SST</text>
<text class="ttl" transform="translate(562.6 21.3) scale(1.067 1.09)" font-size="27" text-anchor="middle">SIC</text>
<text class="row" x="18.07" y="148.2" font-size="23.9" text-anchor="middle" transform="rotate(-90 18.07 148.2)">Temp +1</text>
<text class="row" x="18.07" y="396" font-size="23.9" text-anchor="middle" transform="rotate(-90 18.07 396)">Temp +2</text>
<text class="row" x="18.07" y="643.6" font-size="23.9" text-anchor="middle" transform="rotate(-90 18.07 643.6)">Temp +3</text>
<path d="M251.7 832.85L250.7 832.85L236.7 843.5L250.7 854.2L251.7 854.2Z" fill="#313695"/>
<path d="M531.8 832.85L532.8 832.85L546.8 843.5L532.8 854.2L531.8 854.2Z" fill="#a50026"/>
<rect x="250.5" y="832.85" width="20.5" height="21.4" fill="#384ca0"/>
<rect x="270.6" y="832.85" width="20.5" height="21.4" fill="#4878b6"/>
<rect x="290.8" y="832.85" width="20.5" height="21.4" fill="#69a0ca"/>
<rect x="310.9" y="832.85" width="20.5" height="21.4" fill="#90c3dd"/>
<rect x="331.1" y="832.85" width="20.5" height="21.4" fill="#b6dfec"/>
<rect x="351.2" y="832.85" width="20.5" height="21.4" fill="#dcf1f7"/>
<rect x="371.4" y="832.85" width="20.5" height="21.4" fill="#ffffff"/>
<rect x="391.6" y="832.85" width="20.5" height="21.4" fill="#ffffff"/>
<rect x="411.7" y="832.85" width="20.5" height="21.4" fill="#fedc8c"/>
<rect x="431.8" y="832.85" width="20.5" height="21.4" fill="#fdb96b"/>
<rect x="452" y="832.85" width="20.5" height="21.4" fill="#f88c51"/>
<rect x="472.1" y="832.85" width="20.5" height="21.4" fill="#ed5f3c"/>
<rect x="492.3" y="832.85" width="20.5" height="21.4" fill="#d93429"/>
<rect x="512.4" y="832.85" width="20.5" height="21.4" fill="#b71126"/>
<path d="M250.7 832.85L532.8 832.85L546.8 843.5L532.8 854.2L250.7 854.2L236.7 843.5Z" fill="none" stroke="#000" stroke-width="1.15" stroke-linejoin="miter"/>
<line x1="250.70" y1="854.2" x2="250.70" y2="859.5" stroke="#000" stroke-width="1.15"/>
<text transform="translate(250.70 875.8) scale(1.12 1)" font-size="15" text-anchor="middle">−6</text>
<line x1="321.22" y1="854.2" x2="321.22" y2="859.5" stroke="#000" stroke-width="1.15"/>
<text transform="translate(321.22 875.8) scale(1.12 1)" font-size="15" text-anchor="middle">−3</text>
<line x1="391.75" y1="854.2" x2="391.75" y2="859.5" stroke="#000" stroke-width="1.15"/>
<text transform="translate(391.75 875.8) scale(1.12 1)" font-size="15" text-anchor="middle">0</text>
<line x1="462.27" y1="854.2" x2="462.27" y2="859.5" stroke="#000" stroke-width="1.15"/>
<text transform="translate(462.27 875.8) scale(1.12 1)" font-size="15" text-anchor="middle">3</text>
<line x1="532.80" y1="854.2" x2="532.80" y2="859.5" stroke="#000" stroke-width="1.15"/>
<text transform="translate(532.80 875.8) scale(1.12 1)" font-size="15" text-anchor="middle">6</text>
</svg>
</body></html>
